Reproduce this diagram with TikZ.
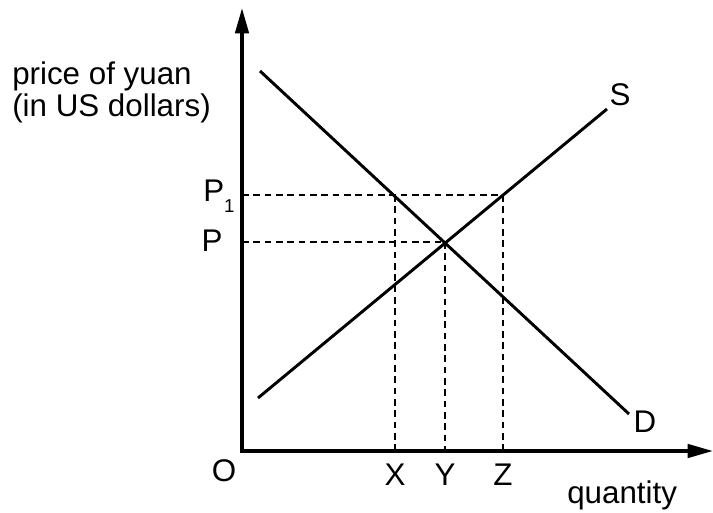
\documentclass[tikz,border=0pt]{standalone}
\usepackage{fontspec}
\setmainfont{Liberation Sans}
\usetikzlibrary{arrows.meta,positioning,calc}

\begin{document}
\begin{tikzpicture}[x=0.75pt, y=-0.75pt,
    axis/.style={line width=2.6pt,
                 {Triangle[length=19pt,width=10pt]}-{Triangle[length=19pt,width=10pt]}},
    curve/.style={line width=2.2pt},
    guide/.style={line width=1.2pt, dash pattern=on 5pt off 3.5pt},
    lbl/.style={font=\fontsize{23.5}{24}\selectfont, inner sep=0pt, anchor=base}
  ]
    \useasboundingbox (0,0) rectangle (713,513);

    % axes
    \coordinate (O)    at (242,451);
    \coordinate (ytop) at (242,8);
    \coordinate (xend) at (713,451);
    \draw[axis] (ytop) -- (O) -- (xend);

    % demand and supply
    \coordinate (d1) at (260,71);
    \coordinate (d2) at (629,414);
    \coordinate (s1) at (258,398);
    \coordinate (s2) at (607,109);
    \draw[curve] (d1) -- (d2);
    \draw[curve] (s1) -- (s2);

    % price levels and quantities
    \coordinate (pone) at (242,195);
    \coordinate (p)    at (242,242);
    \coordinate (xa)   at (395,195);
    \coordinate (za)   at (503,195);
    \coordinate (E)    at (445,242);
    \coordinate (xq)   at (395,451);
    \coordinate (yq)   at (445,451);
    \coordinate (zq)   at (503,451);
    \draw[guide] (pone) -- (za);
    \draw[guide] (p) -- (E);
    \draw[guide] (xa) -- (xq);
    \draw[guide] (E) -- (yq);
    \draw[guide] (za) -- (zq);

    % labels
    \node[lbl, anchor=base west, align=left] (lblPrice) at (12,117) {price of yuan\\(in US dollars)};
    \node[lbl, anchor=base west] (lblPone) at (203,202) {P\raisebox{-8pt}{\fontsize{14}{14}\selectfont 1}};
    \node[lbl] (lblP) at (212,252) {P};
    \node[lbl] (lblO) at (224,481) {O};
    \node[lbl] (lblX) at (395,485) {X};
    \node[lbl] (lblY) at (445,485) {Y};
    \node[lbl] (lblZ) at (503,485) {Z};
    \node[lbl, anchor=base west] (lblQty) at (567,503) {quantity};
    \node[lbl] (lblS) at (620,106) {S};
    \node[lbl] (lblD) at (645,432) {D};
\end{tikzpicture}
\end{document}
